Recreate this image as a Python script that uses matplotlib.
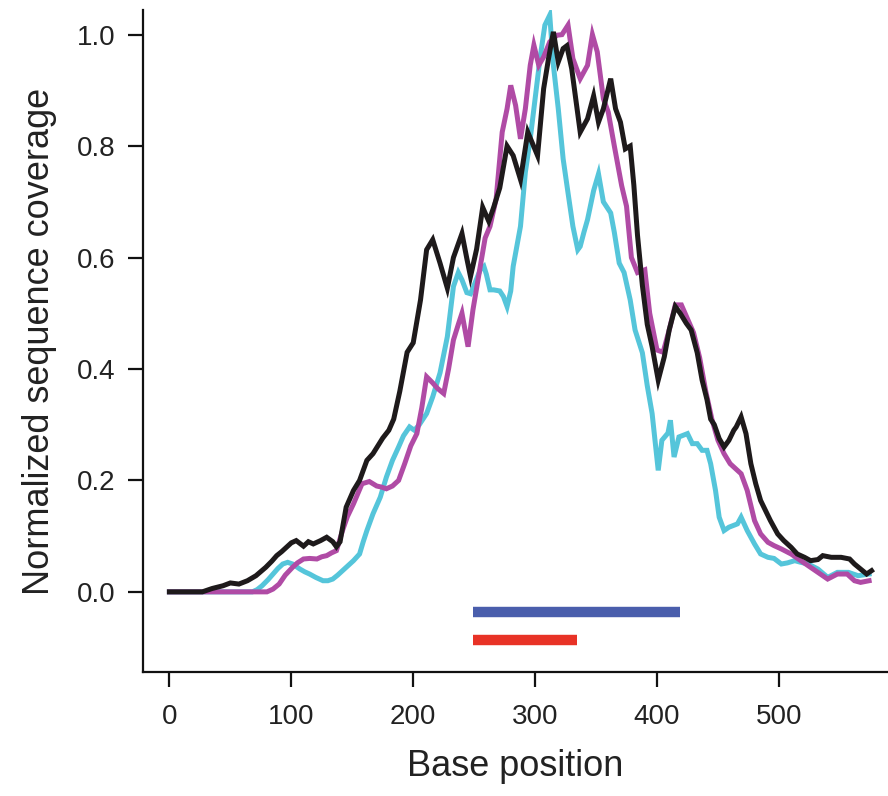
import matplotlib
matplotlib.use("Agg")
import matplotlib.pyplot as plt

plt.rcParams['font.family'] = ['Liberation Sans', 'DejaVu Sans']

# black trace
black_x = [0, 27, 35, 44, 50, 57, 64, 71, 79, 84, 88, 92, 96, 100, 104, 110, 114, 118,
           124, 129, 134, 137, 140, 145, 151, 156, 162, 167, 171, 175, 180, 184, 189,
           195, 200, 206, 211, 216, 222, 228, 233, 240, 244, 247, 252, 257, 262, 266,
           271, 277, 282, 288, 294, 302, 307, 311, 315, 319, 323, 326, 330, 337, 343,
           348, 352, 356, 362, 366, 370, 374, 378, 381, 384, 388, 392, 396, 401, 406,
           410, 415, 419, 424, 428, 433, 437, 441, 444, 447, 451, 455, 459, 463, 465,
           469, 473, 477, 481, 485, 489, 493, 499, 504, 510, 515, 521, 526, 532, 536,
           543, 551, 558, 562, 567, 572, 576]
black_y = [0, 0, 0.006, 0.011, 0.016, 0.014, 0.02, 0.029, 0.044, 0.055, 0.065, 0.072,
           0.08, 0.088, 0.092, 0.082, 0.09, 0.086, 0.092, 0.098, 0.09, 0.081, 0.09,
           0.152, 0.182, 0.2, 0.236, 0.248, 0.262, 0.276, 0.29, 0.31, 0.36, 0.43, 0.447,
           0.524, 0.614, 0.632, 0.59, 0.545, 0.6, 0.643, 0.598, 0.566, 0.615, 0.69,
           0.665, 0.69, 0.725, 0.8, 0.783, 0.74, 0.825, 0.783, 0.903, 0.957, 1.005,
           0.951, 0.975, 0.98, 0.939, 0.825, 0.849, 0.89, 0.843, 0.867, 0.921, 0.867,
           0.843, 0.795, 0.8, 0.73, 0.64, 0.55, 0.48, 0.44, 0.38, 0.422, 0.47, 0.512,
           0.5, 0.482, 0.47, 0.429, 0.38, 0.345, 0.31, 0.3, 0.275, 0.26, 0.272, 0.29,
           0.296, 0.314, 0.284, 0.23, 0.194, 0.164, 0.146, 0.128, 0.104, 0.092, 0.08,
           0.068, 0.062, 0.056, 0.058, 0.065, 0.062, 0.062, 0.059, 0.05, 0.041, 0.032,
           0.038]

# magenta trace
magenta_x = [0, 80, 85, 90, 95, 101, 105, 110, 115, 121, 125, 129, 133, 137, 142, 146,
             151, 158, 164, 170, 174, 178, 183, 188, 193, 198, 203, 207, 211, 216, 220,
             225, 229, 233, 237, 240, 245, 249, 255, 259, 263, 268, 273, 277, 280, 284,
             288, 292, 296, 299, 303, 307, 312, 318, 322, 327, 331, 337, 343, 347, 351,
             356, 360, 365, 371, 375, 379, 384, 390, 394, 400, 405, 410, 415, 420, 425,
             430, 435, 440, 445, 450, 455, 460, 469, 474, 480, 485, 491, 496, 502, 510,
             518, 526, 534, 540, 548, 556, 562, 567, 574]
magenta_y = [0, 0, 0.005, 0.014, 0.03, 0.044, 0.052, 0.059, 0.06, 0.059, 0.063, 0.065,
             0.07, 0.074, 0.11, 0.135, 0.158, 0.194, 0.198, 0.19, 0.188, 0.185, 0.19,
             0.2, 0.23, 0.262, 0.284, 0.33, 0.386, 0.375, 0.365, 0.356, 0.4, 0.452, 0.48,
             0.5, 0.44, 0.506, 0.584, 0.635, 0.656, 0.705, 0.825, 0.867, 0.909, 0.873,
             0.813, 0.867, 0.945, 0.981, 0.945, 0.96, 0.987, 0.999, 1.0, 1.017, 0.957,
             0.921, 0.945, 1.0, 0.969, 0.885, 0.861, 0.8, 0.729, 0.692, 0.6, 0.573,
             0.578, 0.5, 0.434, 0.43, 0.47, 0.515, 0.515, 0.49, 0.465, 0.42, 0.36, 0.31,
             0.272, 0.248, 0.23, 0.212, 0.182, 0.128, 0.104, 0.089, 0.083, 0.077, 0.068,
             0.056, 0.044, 0.032, 0.023, 0.032, 0.032, 0.02, 0.017, 0.02]

# cyan trace
cyan_x = [0, 68, 72, 76, 81, 85, 89, 93, 97, 101, 107, 111, 115, 120, 126, 130, 134,
          138, 142, 146, 151, 156, 159, 162, 167, 173, 178, 183, 188, 192, 197, 201,
          205, 211, 216, 222, 228, 233, 237, 240, 244, 247, 249, 255, 258, 260, 263,
          266, 271, 274, 277, 280, 282, 285, 288, 292, 296, 300, 304, 308, 312, 315,
          319, 323, 327, 331, 335, 337, 340, 343, 348, 352, 356, 362, 365, 369, 373,
          378, 382, 388, 392, 396, 401, 404, 409, 411, 414, 418, 425, 429, 433, 437,
          441, 444, 448, 451, 455, 459, 466, 469, 474, 480, 485, 491, 496, 502, 507,
          513, 518, 524, 532, 540, 548, 557, 565, 574]
cyan_y = [0, 0, 0.004, 0.011, 0.022, 0.032, 0.042, 0.05, 0.053, 0.05, 0.041, 0.036,
          0.032, 0.026, 0.02, 0.02, 0.023, 0.03, 0.038, 0.046, 0.056, 0.068, 0.09, 0.11,
          0.14, 0.17, 0.206, 0.236, 0.26, 0.28, 0.296, 0.29, 0.3, 0.32, 0.35, 0.393,
          0.458, 0.548, 0.573, 0.56, 0.537, 0.535, 0.545, 0.578, 0.584, 0.57, 0.542,
          0.542, 0.54, 0.53, 0.512, 0.54, 0.584, 0.62, 0.656, 0.753, 0.813, 0.885,
          0.957, 1.017, 1.035, 0.945, 0.867, 0.777, 0.716, 0.656, 0.614, 0.62, 0.645,
          0.668, 0.72, 0.75, 0.7, 0.68, 0.645, 0.59, 0.573, 0.524, 0.47, 0.429, 0.37,
          0.32, 0.218, 0.272, 0.285, 0.308, 0.242, 0.278, 0.284, 0.266, 0.266, 0.254,
          0.254, 0.23, 0.182, 0.134, 0.11, 0.116, 0.122, 0.134, 0.11, 0.086, 0.068,
          0.062, 0.06, 0.05, 0.052, 0.056, 0.053, 0.05, 0.041, 0.026, 0.035, 0.035,
          0.029, 0.032]

# region bars (start, end, level)
blue_bar = (249, 419, -0.036)
red_bar = (249, 334, -0.087)

fig = plt.figure(figsize=(8.88, 7.96), dpi=100)
ax = fig.add_axes([0.161, 0.156, 0.839, 0.831])

ax.plot(cyan_x, cyan_y, color='#55C5DA', lw=3.6, solid_joinstyle='miter')
ax.plot(magenta_x, magenta_y, color='#B04BA5', lw=3.6, solid_joinstyle='miter')
ax.plot(black_x, black_y, color='#1E1A1B', lw=3.6, solid_joinstyle='miter')

ax.plot(blue_bar[:2], [blue_bar[2]] * 2, color='#4A5EAC', lw=7.5, solid_capstyle='butt')
ax.plot(red_bar[:2], [red_bar[2]] * 2, color='#E83226', lw=7.5, solid_capstyle='butt')

ax.set_xlim(-21.7, 589.5)
ax.set_ylim(-0.1435, 1.0436)
ax.set_xticks([0, 100, 200, 300, 400, 500])
ax.set_yticks([0.0, 0.2, 0.4, 0.6, 0.8, 1.0])
ax.set_yticklabels(['0.0', '0.2', '0.4', '0.6', '0.8', '1.0'])

for side in ['top', 'right']:
    ax.spines[side].set_visible(False)
for side in ['left', 'bottom']:
    ax.spines[side].set_linewidth(1.6)
    ax.spines[side].set_color('#111111')

ax.tick_params(axis='both', which='major', length=11, width=1.6, color='#111111',
               labelsize=20, labelcolor='#222222')
ax.tick_params(axis='x', pad=12)
ax.tick_params(axis='y', pad=9)

ax.set_xlabel('Base position', fontsize=26, color='#222222', labelpad=14)
ax.set_ylabel('Normalized sequence coverage', fontsize=26, color='#222222', labelpad=14)

plt.savefig('out.png', dpi=100)
